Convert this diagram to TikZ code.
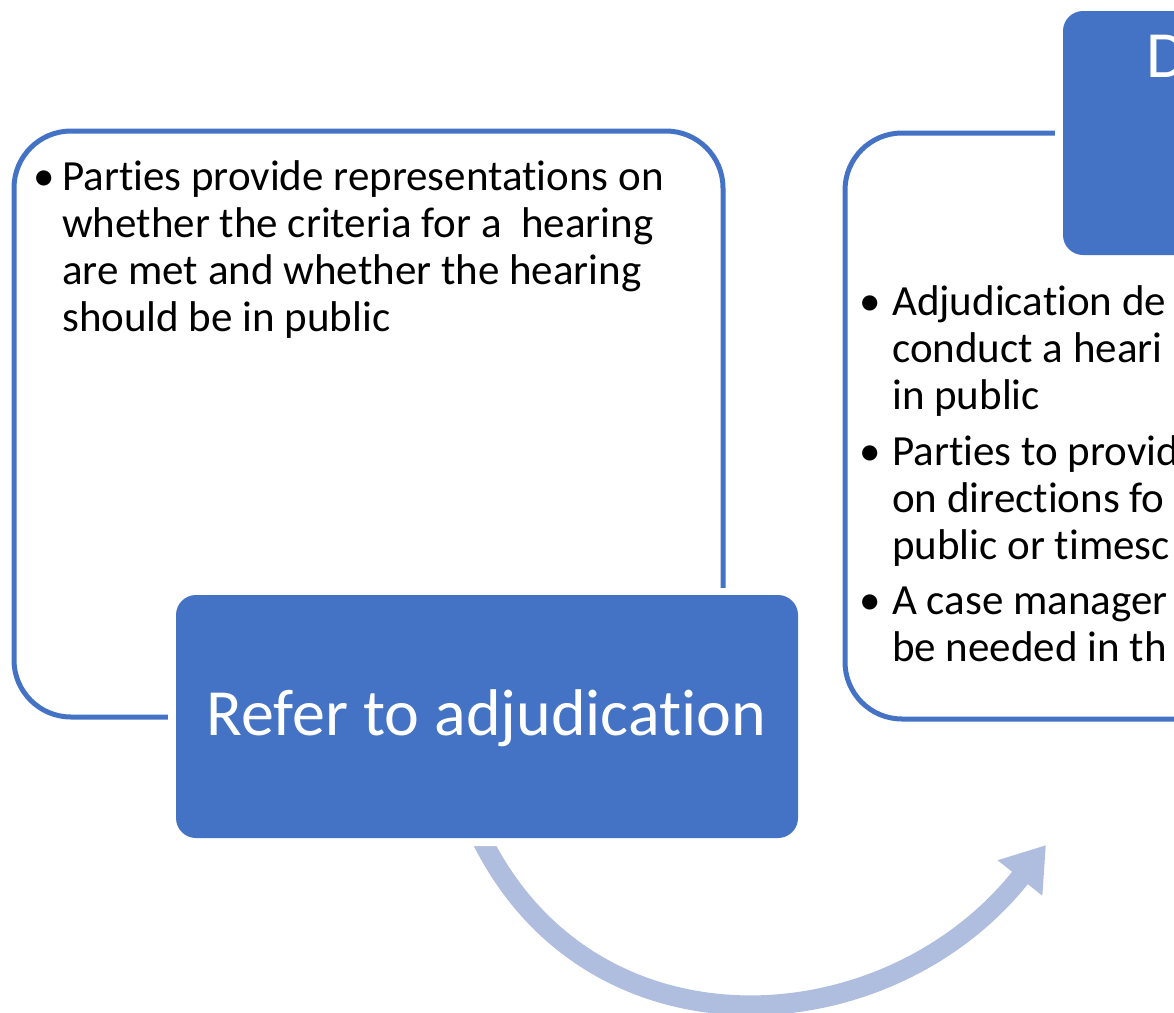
\documentclass[tikz,border=0pt]{standalone}
\usepackage{fontspec}
\setmainfont{Carlito}[Ligatures=NoCommon]
\usepackage{tikz}
\usetikzlibrary{arrows.meta}
\definecolor{accentblue}{RGB}{68,114,196}
\definecolor{arrowblue}{RGB}{175,189,222}

\begin{document}
\begin{tikzpicture}[x=1pt, y=-1pt,
    outline/.style={draw=accentblue, line width=5pt, rounded corners=57pt},
    halo/.style={fill=white, rounded corners=27pt},
    bluebox/.style={fill=accentblue, rounded corners=20pt, inner sep=0pt},
    itemtext/.style={anchor=base west, align=left, inner sep=0pt, font=\fontsize{43}{47.3}\selectfont},
    itembullet/.style={anchor=base, inner sep=0pt, font=\fontsize{43}{47.3}\selectfont},
    titletext/.style={anchor=base, inner sep=0pt, text=white, font=\fontsize{66}{70}\selectfont},
    curved/.style={draw=arrowblue, line width=20pt, -{Triangle[length=42pt, width=54pt]}}]
  \useasboundingbox (0,0) rectangle (1174,1012);
  \clip (0,0) rectangle (1174,1012);
  \draw[outline] (14,131) rectangle (723,717);
  \draw[outline] (845,133) rectangle (1300,719);
  \coordinate (arrstart) at (465,800);
  \coordinate (arrend) at (1046,845);
  \draw[curved] (arrstart) .. controls (560,1065) and (880,1055) .. (arrend);
  \fill[halo] (168,588) rectangle (806,846);
  \fill[halo] (1055,3) rectangle (1400,263);
  \node[bluebox, minimum width=622pt, minimum height=243pt] (refer) at (487,716.5) {};
  \node[bluebox, minimum width=337pt, minimum height=244pt] (topbox) at (1231.5,133) {};
  \node[titletext] (refertitle) at (486.5,735) {Refer to adjudication};
  \node[titletext, anchor=base west] (toptitle) at (1146,77) {D};
  % multi-line nodes sit on the baseline of their last line
  \node[itembullet] (lb1) at (44,190) {\textbullet};
  \node[itemtext] (litem1) at (62,331.9) {Parties provide representations on\\whether the criteria for a\ \ hearing\\are met and whether the hearing\\should be in public};
  \node[itembullet] (rb1) at (870,315) {\textbullet};
  \node[itemtext] (ritem1) at (892,409.6) {Adjudication de\\conduct a heari\\in public};
  \node[itembullet] (rb2) at (870,465) {\textbullet};
  \node[itemtext] (ritem2) at (892,559.6) {Parties to provid\\on directions fo\\public or timesc};
  \node[itembullet] (rb3) at (870,614) {\textbullet};
  \node[itemtext] (ritem3) at (892,661.3) {A case manager\\be needed in th};
\end{tikzpicture}
\end{document}
